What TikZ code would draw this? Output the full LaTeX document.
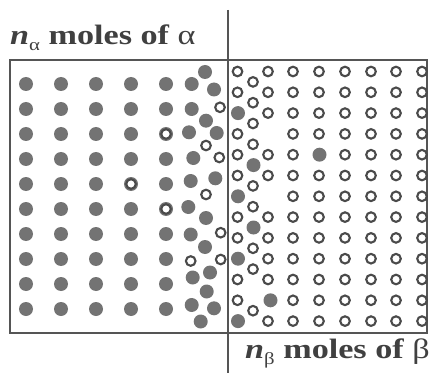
\documentclass[tikz,border=0pt]{standalone}
\usepackage{fontspec}
\setmainfont{Liberation Serif}
\newfontfamily\labelfont[FakeStretch=1.22]{Liberation Serif}
\definecolor{dotgray}{HTML}{737373}
\definecolor{ringgray}{HTML}{4A4A4A}
\definecolor{framegray}{HTML}{555555}
\definecolor{textgray}{HTML}{404040}
\tikzset{
  aatom/.style={fill=dotgray, draw=none},
  batom/.style={draw=ringgray, fill=white, line width=2.1pt},
  frame/.style={draw=framegray, line width=1.3pt},
  phaselabel/.style={text=textgray, inner sep=0pt, anchor=base west,
    font=\labelfont\fontsize{28}{28}\selectfont}
}
\newcommand{\adot}[1]{\fill[aatom] #1 circle[radius=7pt];}
\newcommand{\bdot}[1]{\draw[batom] #1 circle[radius=4.8pt];}

\begin{document}
\begin{tikzpicture}[x=1pt, y=-1pt]
  \useasboundingbox (0,0) rectangle (433,374);

  \draw[frame] (10,60) rectangle (427,333);
  \draw[frame] (228,10) -- (228,373);

  \foreach \x in {26,61,96,131,166}
    \foreach \i in {0,...,9}
      \adot{(\x,84+25*\i)};
  \foreach \p in {(131,184),(166,134),(166,209)}
    \bdot{\p};

  \foreach \p in {(205,72),(191.7,84),(214,89.5),(191.7,109),(206,120.7),
                  (189,132.3),(216.7,133),(193.3,158),(190.7,181),(215.3,178.3),
                  (188.3,207),(206,218),(190.7,234.5),(205,247),(210,272.5),
                  (192.7,277.5),(206.7,291.5),(191.7,305),(214,308.3),(200.7,321.5)}
    \adot{\p};
  \foreach \p in {(220,107.3),(206,145.5),(219.3,157.5),(206,194.5),
                  (220.7,232.7),(190.7,261),(220.7,259.5)}
    \bdot{\p};

  \foreach \j in {0,1,3,4,5,7,8,10,11}
    \bdot{(237.5,71.5+20.8*\j)};
  \foreach \j in {2,6,9,12}
    \adot{(238,71.5+20.8*\j)};
  \foreach \k in {0,1,2,3,5,6,8,9,11}
    \bdot{(253,81.9+20.8*\k)};
  \foreach \k in {4,7}
    \adot{(253.5,81.9+20.8*\k)};
  \foreach \j in {0,1,2,4,5,7,8,9,10,12}
    \bdot{(268,71.5+20.8*\j)};
  \adot{(270.5,71.5+20.8*11)};

  \foreach \x in {293,319,345,371,396,422}
    \foreach \j in {0,...,12}
      \bdot{(\x,71.5+20.8*\j)};
  \adot{(319.5,71.5+20.8*4)};

  \node[phaselabel] (alphalabel) at (10,45)
    {\bfseries\itshape n\raisebox{-6pt}{\mdseries\upshape\fontsize{17}{17}\selectfont α}\upshape\ moles of \mdseries α};
  \node[phaselabel] (betalabel) at (245,358)
    {\bfseries\itshape n\raisebox{-6pt}{\mdseries\upshape\fontsize{17}{17}\selectfont β}\upshape\ moles of \mdseries β};
\end{tikzpicture}
\end{document}
